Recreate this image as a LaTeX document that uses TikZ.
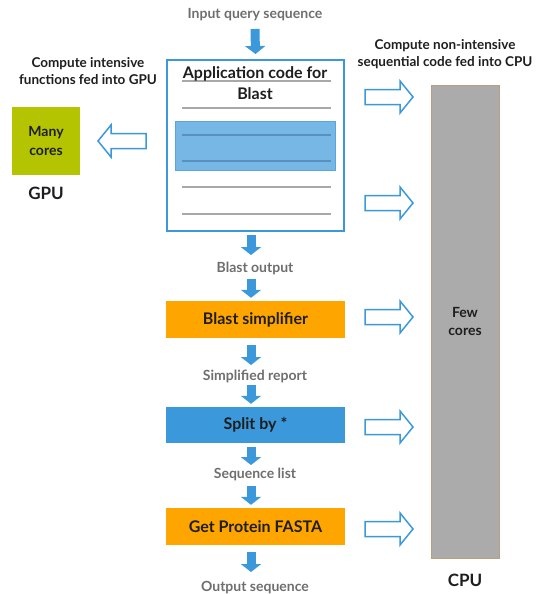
\documentclass[tikz,border=0pt]{standalone}
\usepackage{fontspec}
\setmainfont{Lato}
\usetikzlibrary{arrows.meta}

\definecolor{flowblue}{HTML}{3A98DB}
\definecolor{boxorange}{HTML}{FFA500}
\definecolor{gpuolive}{HTML}{B5C400}
\definecolor{cpugray}{HTML}{ABABAB}
\definecolor{cpuedge}{HTML}{B8A07E}
\definecolor{labelgray}{HTML}{6E6E6E}
\definecolor{ruleline}{HTML}{A8A8A8}
\definecolor{hilite}{HTML}{76B7E6}
\definecolor{hiliteedge}{HTML}{5AA5DD}
\definecolor{hiliterule}{HTML}{5A90C0}
\definecolor{inktext}{HTML}{1E1E1E}

\tikzset{
  flowlabel/.style={inner sep=0pt, anchor=base, text=labelgray, font=\bfseries\fontsize{14}{16}\selectfont},
  notelabel/.style={inner sep=0pt, text=inktext, align=center, font=\bfseries\fontsize{13.5}{17}\selectfont},
  unitlabel/.style={inner sep=0pt, text=inktext, font=\bfseries\fontsize{17}{20}\selectfont},
  stagebox/.style={rectangle, minimum width=179pt, minimum height=37pt, inner sep=0pt,
    text=inktext, font=\bfseries\fontsize{16}{19}\selectfont},
  titletext/.style={inner sep=0pt, anchor=base, text=inktext, font=\bfseries\fontsize{16}{19}\selectfont},
  flowarrow/.style={draw=flowblue, line width=9pt, -{Triangle[width=20pt,length=8pt]}},
  hollow/.style={draw=flowblue, line width=1.5pt, fill=white, line join=miter},
  rule/.style={draw=ruleline, line width=1.4pt},
  hollowarrow/.pic={
    \draw[hollow] (0,-7.5) -- (35,-7.5) -- (35,-16) -- (48,0) -- (35,16) -- (35,7.5) -- (0,7.5) -- cycle;
  }
}

\begin{document}
\begin{tikzpicture}[x=1pt, y=-1pt]
\useasboundingbox (0,0) rectangle (537,594);

% --- main flow column ---
\node[flowlabel] (inq) at (255,19) {Input query sequence};

\node[rectangle, draw=flowblue, line width=2pt, fill=white,
      minimum width=177pt, minimum height=171pt, inner sep=0pt] (app) at (255.5,145.5) {};

% ruled "code" lines inside the application box
\draw[rule] (182,81) -- (331,81);
\draw[rule] (182,108) -- (331,108);
\draw[fill=hilite, draw=hiliteedge, line width=1pt] (175,121) rectangle (335,170);
\draw[draw=hiliterule, line width=1.4pt] (182,135) -- (331,135);
\draw[draw=hiliterule, line width=1.4pt] (182,161) -- (331,161);
\draw[rule] (182,187) -- (331,187);
\draw[rule] (182,214) -- (331,214);
\node[titletext] (apptitle) at (255,78) {Application code for};
\node[titletext] (apptitle2) at (255,99) {Blast};

\node[flowlabel] (bo) at (255,272) {Blast output};
\node[stagebox, fill=boxorange] (bs) at (255.5,319.5) {Blast simplifier};
\node[flowlabel] (sr) at (255,380) {Simplified report};
\node[stagebox, fill=flowblue, minimum height=36pt] (split) at (255.5,425) {Split by *};
\node[flowlabel] (sl) at (255,478) {Sequence list};
\node[stagebox, fill=boxorange] (gp) at (255.5,526.5) {Get Protein FASTA};
\node[flowlabel] (os) at (255,591) {Output sequence};

% --- down arrows between the stages ---
\draw[flowarrow] ([yshift=-10pt]inq.base) -- ([yshift=5pt]app.north);
\draw[flowarrow] ([xshift=-4.5pt,yshift=-3pt]app.south) -- ([xshift=-4pt,yshift=17pt]bo.base);
\draw[flowarrow] ([xshift=-4pt,yshift=-7pt]bo.base) -- ([xshift=-4.5pt,yshift=3pt]bs.north);
\draw[flowarrow] ([xshift=-4.5pt,yshift=-7pt]bs.south) -- ([xshift=-4pt,yshift=15pt]sr.base);
\draw[flowarrow] ([xshift=-4pt,yshift=-5pt]sr.base) -- ([xshift=-4.5pt,yshift=3pt]split.north);
\draw[flowarrow] ([xshift=-4.5pt,yshift=-4pt]split.south) -- ([xshift=-4pt,yshift=13pt]sl.base);
\draw[flowarrow] ([xshift=-4pt,yshift=-8pt]sl.base) -- ([xshift=-4.5pt,yshift=3pt]gp.north);
\draw[flowarrow] ([xshift=-4.5pt,yshift=-7pt]gp.south) -- ([xshift=-4pt,yshift=19pt]os.base);

% --- GPU side ---
\node[notelabel] (gpunote) at (88,71.5) {Compute intensive\\functions fed into GPU};
\node[rectangle, fill=gpuolive, minimum size=68pt, inner sep=0pt, align=center,
      text=inktext, font=\bfseries\fontsize{14}{19}\selectfont] (gpu) at (46,141) {Many\\cores};
\node[unitlabel] (gpulbl) at (46,193) {GPU};
\pic[xscale=-1] (toGPU) at (146,141) {hollowarrow};

% --- CPU side ---
\node[notelabel] (cpunote) at (445,54.5) {Compute non-intensive\\sequential code fed into CPU};
\node[rectangle, fill=cpugray, draw=cpuedge, line width=0.8pt, minimum width=68pt,
      minimum height=473pt, inner sep=0pt, align=center, text=inktext,
      font=\bfseries\fontsize{14}{18}\selectfont] (cpu) at (465,321.5) {Few\\cores};
\node[unitlabel] (cpulbl) at (465,580) {CPU};
\foreach \yy in {97,203,317,427,529} {
  \pic (toCPU\yy) at (365,\yy) {hollowarrow};
}
\end{tikzpicture}
\end{document}
